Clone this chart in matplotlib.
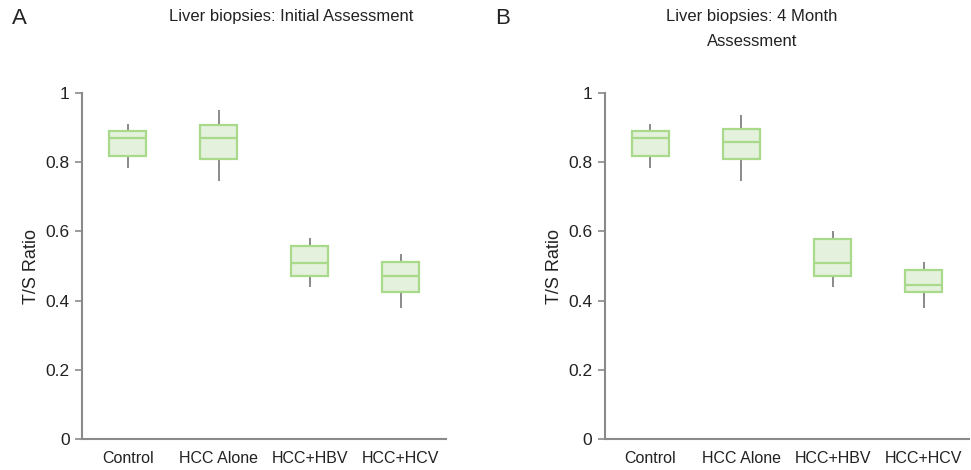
import matplotlib
matplotlib.use("Agg")
import matplotlib.pyplot as plt

categories = ["Control", "HCC Alone", "HCC+HBV", "HCC+HCV"]

# Panel A: Initial Assessment
a_whislo = [0.787, 0.749, 0.443, 0.382]
a_q1     = [0.819, 0.808, 0.472, 0.425]
a_med    = [0.870, 0.870, 0.510, 0.470]
a_q3     = [0.890, 0.909, 0.557, 0.512]
a_whishi = [0.909, 0.948, 0.578, 0.533]

# Panel B: 4 Month Assessment
b_whislo = [0.787, 0.749, 0.443, 0.382]
b_q1     = [0.818, 0.808, 0.472, 0.425]
b_med    = [0.870, 0.859, 0.509, 0.446]
b_q3     = [0.890, 0.896, 0.579, 0.488]
b_whishi = [0.907, 0.934, 0.597, 0.509]

yticks = [0, 0.2, 0.4, 0.6, 0.8, 1]
ytick_labels = ["0", "0.2", "0.4", "0.6", "0.8", "1"]

plt.rcParams['font.family'] = ['Liberation Sans', 'DejaVu Sans']

fig = plt.figure(figsize=(9.71, 4.70), dpi=100)

edge = "#a9d98a"
fill = "#e4f1dc"
gray = "#8a8a8a"

def draw(ax, lo, q1, med, q3, hi):
    stats = []
    for i in range(len(categories)):
        stats.append(dict(whislo=lo[i], q1=q1[i], med=med[i], q3=q3[i],
                          whishi=hi[i], fliers=[], label=categories[i]))
    ax.bxp(stats, positions=list(range(len(categories))), widths=0.4,
           patch_artist=True, showcaps=False, showfliers=False,
           boxprops=dict(facecolor=fill, edgecolor=edge, linewidth=1.6),
           medianprops=dict(color=edge, linewidth=1.6),
           whiskerprops=dict(color=gray, linewidth=1.4))
    for p in ax.patches:
        p.set_zorder(3)
    for l in ax.lines:
        if l.get_color() == edge:
            l.set_zorder(4)
    ax.set_xlim(-0.5, 3.5)
    ax.set_ylim(0, 1)
    ax.set_yticks(yticks)
    ax.set_yticklabels(ytick_labels)
    ax.spines['top'].set_visible(False)
    ax.spines['right'].set_visible(False)
    ax.spines['left'].set_color(gray)
    ax.spines['bottom'].set_color(gray)
    ax.spines['left'].set_linewidth(1.5)
    ax.spines['bottom'].set_linewidth(1.5)
    ax.spines['left'].set_bounds(0, 1)
    ax.tick_params(axis='y', length=5, width=1.2, color=gray, labelsize=12.5,
                   labelcolor="#222222", pad=4)
    ax.tick_params(axis='x', length=0, labelsize=11.5, labelcolor="#222222", pad=9)
    ax.set_ylabel("T/S Ratio", fontsize=13, color="#222222", labelpad=4)

axA = fig.add_axes([0.0845, 0.066, 0.375, 0.736])
draw(axA, a_whislo, a_q1, a_med, a_q3, a_whishi)
axB = fig.add_axes([0.623, 0.066, 0.375, 0.736])
draw(axB, b_whislo, b_q1, b_med, b_q3, b_whishi)

fig.text(291 / 971, 1 - 17 / 470, "Liver biopsies: Initial Assessment", ha='center', va='center',
         fontsize=12, color="#222222")
fig.text(752 / 971, 1 - 17 / 470, "Liver biopsies: 4 Month", ha='center', va='center',
         fontsize=12, color="#222222")
fig.text(752 / 971, 1 - 41 / 470, "Assessment", ha='center', va='center',
         fontsize=12, color="#222222")
fig.text(19 / 971, 1 - 19 / 470, "A", ha='center', va='center', fontsize=16, color="#222222")
fig.text(503 / 971, 1 - 19 / 470, "B", ha='center', va='center', fontsize=16, color="#222222")

fig.savefig("out.png", dpi=100)
